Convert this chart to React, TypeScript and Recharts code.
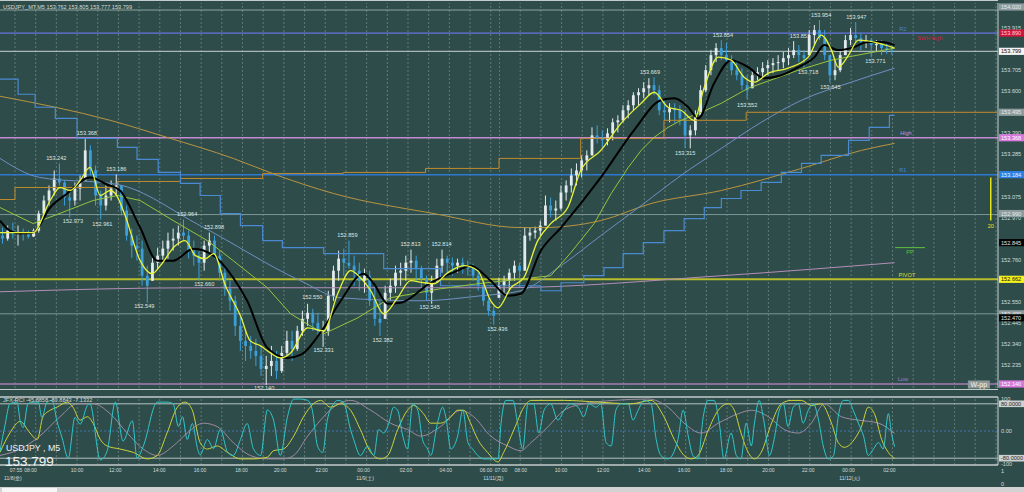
import React from 'react';
import { ComposedChart, Bar, Line, XAxis, YAxis, ReferenceLine, ReferenceDot } from 'recharts';

// ---------------- data ----------------
const SLOTS = 193; // 15-minute slots across the plot width
const PMIN = 152.12;
const PMAX = 154.04;

// visible price-scale labels (the others sit under the value boxes)
const priceTicks = [153.915, 153.705, 153.6, 153.39, 153.285, 153.075, 152.97, 152.76, 152.55, 152.445, 152.34, 152.235];

const firstOpen = 152.88;
const highs = [
  152.920, 152.930, 152.945, 152.930, 152.915, 152.905, 152.915, 153.005, 153.080, 153.130,
  153.205, 153.240, 153.155, 153.105, 153.145, 153.180, 153.365, 153.330, 153.230, 153.105,
  153.130, 153.155, 153.185, 153.130, 153.030, 152.915, 152.880, 152.855, 152.730, 152.780,
  152.820, 152.855, 152.895, 152.915, 152.930, 152.960, 152.905, 152.855, 152.805, 152.855,
  152.895, 152.880, 152.805, 152.730, 152.655, 152.580, 152.480, 152.405, 152.380, 152.365,
  152.330, 152.280, 152.330, 152.305, 152.330, 152.405, 152.405, 152.430, 152.505, 152.540,
  152.515, 152.495, 152.455, 152.605, 152.730, 152.805, 152.815, 152.855, 152.780, 152.745,
  152.715, 152.705, 152.630, 152.555, 152.630, 152.665, 152.730, 152.745, 152.780, 152.810,
  152.780, 152.730, 152.680, 152.680, 152.765, 152.810, 152.780, 152.770, 152.765, 152.770,
  152.755, 152.740, 152.705, 152.655, 152.565, 152.530, 152.670, 152.680, 152.715, 152.755,
  152.745, 152.920, 152.920, 152.925, 152.955, 153.080, 153.070, 153.055, 153.130, 153.155,
  153.215, 153.240, 153.280, 153.305, 153.420, 153.430, 153.405, 153.415, 153.465, 153.480,
  153.530, 153.555, 153.595, 153.615, 153.645, 153.665, 153.670, 153.630, 153.555, 153.540,
  153.540, 153.530, 153.505, 153.430, 153.505, 153.630, 153.730, 153.805, 153.840, 153.855,
  153.840, 153.780, 153.755, 153.715, 153.680, 153.705, 153.720, 153.745, 153.755, 153.765,
  153.780, 153.795, 153.815, 153.850, 153.830, 153.805, 153.905, 153.930, 153.955, 153.905,
  153.780, 153.755, 153.805, 153.880, 153.915, 153.945, 153.890, 153.880, 153.865, 153.855,
  153.855, 153.845, 153.830,
];
const lows = [
  152.840, 152.855, 152.865, 152.830, 152.855, 152.865, 152.875, 152.895, 152.980, 153.030,
  153.080, 153.130, 153.030, 152.970, 153.030, 153.055, 153.155, 153.180, 153.030, 152.960,
  153.005, 153.055, 153.080, 152.980, 152.855, 152.770, 152.755, 152.630, 152.545, 152.655,
  152.715, 152.745, 152.765, 152.805, 152.830, 152.855, 152.765, 152.730, 152.655, 152.705,
  152.795, 152.765, 152.655, 152.580, 152.505, 152.380, 152.305, 152.255, 152.265, 152.230,
  152.180, 152.135, 152.180, 152.165, 152.195, 152.280, 152.255, 152.305, 152.380, 152.430,
  152.405, 152.380, 152.325, 152.380, 152.555, 152.655, 152.680, 152.715, 152.630, 152.605,
  152.595, 152.530, 152.430, 152.380, 152.465, 152.555, 152.595, 152.630, 152.655, 152.695,
  152.655, 152.615, 152.555, 152.540, 152.645, 152.695, 152.680, 152.680, 152.695, 152.690,
  152.680, 152.655, 152.605, 152.530, 152.480, 152.435, 152.570, 152.595, 152.605, 152.655,
  152.620, 152.705, 152.855, 152.865, 152.880, 152.930, 152.970, 152.955, 153.005, 153.055,
  153.095, 153.130, 153.170, 153.205, 153.280, 153.340, 153.320, 153.330, 153.355, 153.395,
  153.445, 153.465, 153.505, 153.530, 153.565, 153.580, 153.580, 153.480, 153.455, 153.445,
  153.440, 153.430, 153.315, 153.315, 153.380, 153.480, 153.595, 153.680, 153.745, 153.755,
  153.730, 153.680, 153.655, 153.605, 153.560, 153.615, 153.655, 153.670, 153.680, 153.690,
  153.705, 153.715, 153.730, 153.765, 153.745, 153.715, 153.780, 153.830, 153.855, 153.755,
  153.645, 153.655, 153.695, 153.780, 153.830, 153.845, 153.805, 153.815, 153.770, 153.795,
  153.780, 153.785, 153.780,
];
const closes = [
  152.865, 152.905, 152.890, 152.895, 152.885, 152.875, 152.905, 152.990, 153.055, 153.105,
  153.165, 153.145, 153.070, 153.055, 153.115, 153.155, 153.305, 153.205, 153.080, 153.030,
  153.080, 153.115, 153.130, 153.005, 152.880, 152.830, 152.815, 152.680, 152.630, 152.745,
  152.780, 152.815, 152.855, 152.865, 152.895, 152.880, 152.805, 152.780, 152.745, 152.830,
  152.855, 152.780, 152.695, 152.615, 152.555, 152.430, 152.355, 152.330, 152.305, 152.280,
  152.215, 152.230, 152.255, 152.205, 152.295, 152.355, 152.315, 152.405, 152.465, 152.495,
  152.445, 152.405, 152.405, 152.580, 152.705, 152.765, 152.745, 152.730, 152.705, 152.655,
  152.680, 152.555, 152.465, 152.445, 152.595, 152.630, 152.695, 152.705, 152.745, 152.755,
  152.715, 152.665, 152.595, 152.655, 152.730, 152.765, 152.745, 152.730, 152.745, 152.725,
  152.715, 152.680, 152.630, 152.555, 152.505, 152.480, 152.630, 152.655, 152.695, 152.730,
  152.705, 152.880, 152.895, 152.905, 152.930, 153.030, 153.005, 153.015, 153.095, 153.130,
  153.180, 153.205, 153.255, 153.280, 153.380, 153.365, 153.355, 153.390, 153.445, 153.455,
  153.505, 153.530, 153.580, 153.595, 153.615, 153.630, 153.605, 153.505, 153.495, 153.515,
  153.505, 153.465, 153.380, 153.405, 153.480, 153.605, 153.705, 153.780, 153.815, 153.780,
  153.755, 153.705, 153.680, 153.630, 153.605, 153.680, 153.695, 153.715, 153.730, 153.740,
  153.745, 153.765, 153.780, 153.805, 153.780, 153.765, 153.880, 153.905, 153.865, 153.780,
  153.680, 153.705, 153.780, 153.855, 153.880, 153.865, 153.845, 153.855, 153.830, 153.835,
  153.815, 153.805, 153.799,
];

// indicator lines: [slot position, price]
const yellowMA = [[0, 152.895], [3.3, 152.895], [6.4, 152.895], [9.7, 153.055], [11.6, 153.12], [13.6, 153.105], [15.5, 153.155], [17.4, 153.22], [19.4, 153.08], [21.3, 153.105], [22.3, 153.09], [24.2, 152.98], [27.1, 152.755], [29.4, 152.69], [31, 152.73], [33.9, 152.83], [35.8, 152.855], [37.8, 152.78], [39.7, 152.765], [41.3, 152.79], [43.6, 152.63], [46.5, 152.48], [48.4, 152.355], [50.4, 152.33], [52.3, 152.295], [54.2, 152.27], [56.2, 152.295], [59.5, 152.42], [62.6, 152.405], [65.3, 152.59], [67.8, 152.705], [69.7, 152.67], [71.7, 152.605], [74.2, 152.49], [76.9, 152.57], [79.4, 152.655], [81.9, 152.645], [83.9, 152.64], [86.6, 152.695], [89.7, 152.73], [92.4, 152.705], [94.9, 152.555], [96.3, 152.52], [98.8, 152.62], [101.3, 152.67], [104, 152.855], [106.5, 152.94], [109.8, 153.02], [112.3, 153.205], [116.2, 153.305], [120.1, 153.44], [124, 153.54], [126.5, 153.595], [129.2, 153.52], [131.7, 153.505], [134.2, 153.455], [136.2, 153.62], [138.9, 153.77], [141.4, 153.755], [143.9, 153.67], [145.9, 153.645], [148.6, 153.69], [152.4, 153.715], [156.3, 153.77], [158.8, 153.88], [160.8, 153.805], [162.1, 153.72], [164.1, 153.78], [166, 153.855], [169.1, 153.845], [173, 153.815]];
const blackMA = [[0, 152.955], [1.9, 152.905], [3.9, 152.89], [6.4, 152.895], [9.7, 153.02], [13, 153.09], [17.4, 153.17], [20.7, 153.135], [23.2, 153.105], [27.1, 152.92], [30.4, 152.755], [33.5, 152.755], [37.4, 152.815], [41.3, 152.78], [45.1, 152.67], [47.8, 152.555], [51.7, 152.32], [55.6, 152.27], [58.1, 152.285], [62.6, 152.42], [65.9, 152.555], [70.3, 152.69], [72.3, 152.64], [75, 152.54], [77.5, 152.545], [83.3, 152.645], [88.5, 152.705], [91, 152.73], [94.9, 152.655], [98.2, 152.58], [100.7, 152.59], [104.6, 152.805], [108.5, 152.92], [116.2, 153.17], [122.6, 153.405], [127.8, 153.555], [130.4, 153.565], [133.1, 153.52], [135, 153.465], [138.1, 153.64], [141.4, 153.755], [144.7, 153.72], [147.8, 153.665], [151.1, 153.68], [154.4, 153.72], [157.5, 153.77], [159.4, 153.83], [162.1, 153.805], [164.6, 153.815], [167.9, 153.845], [170.5, 153.845], [173, 153.83]];
const greenMA = [[0, 153.02], [6.4, 152.94], [13, 153.005], [18, 153.055], [22.7, 153.08], [27.1, 153.055], [33.5, 152.955], [40.1, 152.855], [45.1, 152.755], [51.7, 152.62], [56.2, 152.49], [62.6, 152.39], [69.2, 152.47], [75.5, 152.57], [85.2, 152.615], [92.4, 152.64], [101.3, 152.665], [106.5, 152.68], [110.4, 152.795], [114.9, 152.94], [118.2, 153.09], [121.5, 153.22], [124, 153.305], [126.5, 153.37], [129.2, 153.42], [131.7, 153.455], [135.6, 153.495], [139.5, 153.54], [144.7, 153.615], [154.4, 153.705], [160.8, 153.755], [173, 153.815]];
const slateMA = [[0, 153.265], [7.7, 153.17], [22.7, 153.135], [38.7, 152.93], [58.1, 152.655], [65.9, 152.57], [81.4, 152.555], [93, 152.58], [100.7, 152.605], [108.5, 152.73], [116.2, 152.88], [124, 153.03], [131.7, 153.18], [139.5, 153.315], [147.2, 153.445], [155, 153.555], [164.6, 153.645], [173, 153.715]];
const orangeMA = [[0, 153.575], [21.3, 153.455], [32.3, 153.37], [45.1, 153.265], [53.7, 153.18], [64.5, 153.09], [83.9, 152.99], [100.7, 152.92], [104.6, 152.92], [116.2, 152.955], [125.9, 153.04], [139.5, 153.105], [155, 153.215], [166.6, 153.305], [173, 153.34]];
const purpleMA = [[0, 152.6], [38.7, 152.62], [96.9, 152.62], [139.5, 152.68], [173, 152.745]];
const blueStep = [[0, 153.66], [3.5, 153.585], [6.8, 153.52], [10.7, 153.465], [14.9, 153.365], [22.7, 153.32], [26.5, 153.26], [30.6, 153.195], [34.9, 153.14], [38.7, 153.08], [42.6, 152.99], [46.5, 152.93], [50.8, 152.855], [54.6, 152.82], [62.6, 152.79], [74.2, 152.715], [85.2, 152.63], [104.6, 152.605], [108.5, 152.645], [112.9, 152.68], [116.8, 152.72], [120.5, 152.79], [124.4, 152.845], [128.4, 152.905], [132.3, 152.965], [136.2, 153.02], [139.5, 153.065], [143.3, 153.105], [147.2, 153.145], [151.1, 153.195], [155, 153.24], [158.8, 153.28], [164.1, 153.355], [168.1, 153.42], [172, 153.48], [173, 153.48]];
const orangeStep = [[0, 153.06], [2.9, 153.12], [22.7, 153.15], [34.9, 153.165], [50.8, 153.19], [66.4, 153.195], [82.3, 153.215], [96.5, 153.265], [112.3, 153.365], [128.4, 153.455], [144.3, 153.495], [193, 153.495]];

// swing high / low annotations: [slot position, price, 1 = above / 0 = below]
const swings = [[10.9, 153.242, 1], [14.1, 152.973, 0], [16.8, 153.368, 1], [19.8, 152.961, 0], [22.5, 153.186, 1], [27.9, 152.549, 0], [36.2, 152.964, 1], [39.5, 152.66, 0], [41.4, 152.898, 1], [51.1, 152.14, 0], [60.4, 152.55, 1], [62.6, 152.331, 0], [67.2, 152.859, 1], [74.0, 152.382, 0], [79.4, 152.813, 1], [83.1, 152.545, 0], [85.4, 152.814, 1], [96.2, 152.436, 0], [125.7, 153.669, 1], [132.5, 153.315, 0], [139.8, 153.854, 1], [144.5, 153.552, 0], [154.7, 153.851, 1], [156.3, 153.718, 0], [158.8, 153.954, 1], [160.6, 153.645, 0], [165.6, 153.947, 1], [169.3, 153.771, 0]];

// horizontal levels
const levelNames = ['top', 'R2', 'price', 'High', 'R1', 'mid', 'PIVOT', 'base', 'Low'];
const levelValues = [154.005, 153.89, 153.799, 153.368, 153.184, 152.985, 152.662, 152.49, 152.14];
const tagTexts = ['R2', 'SWH high', 'High', 'R1', 'PP', 'PIVOT', 'Low'];
const tagAt = [174.6, 179.8, 175.2, 174.6, 176.0, 175.4, 174.6];
const tagPrice = [153.89, 153.89, 153.368, 153.184, 152.82, 152.662, 152.14];
const tagAbove = [1, 0, 1, 1, 0, 1, 1];
const ppSegment = [173.1, 178.9, 152.82];
const rangeBar = [191.6, 153.17, 152.955, 20];
const wppAt = [189.3, 152.14];

// right-axis value boxes
const boxNames = ['grey', 'red', 'white', 'grey', 'pink', 'blue', 'grey', 'black', 'yellow', 'grey', 'black', 'pink'];
const boxValues = [154.02, 153.89, 153.799, 153.495, 153.368, 153.184, 152.99, 152.845, 152.662, 152.49, 152.47, 152.14];

// oscillator (JFX-RCI) : [slot position, value]
const rciFast = [[0, -60], [1.0, 20], [1.9, 80], [3.3, 85], [3.9, 30], [4.5, 10], [5.4, 80], [6.4, 85], [7.4, 85], [8.1, 40], [9.1, 85], [10.1, 90], [11.0, 30], [12.0, -20], [13.2, -80], [14.5, 40], [15.5, 20], [16.9, 75], [17.4, 80], [19.4, -85], [20.7, -60], [22.3, 85], [23.8, -30], [25.6, 30], [26.5, -80], [27.7, -45], [30.4, 85], [32.3, 85], [33.5, 80], [34.5, 13], [35.3, 42], [36.2, -25], [37.2, 22], [38.2, -52], [38.7, -70], [40.1, -25], [41.3, -52], [42.6, 5], [44.0, -62], [45.1, -72], [46.5, -25], [47.8, 22], [49.0, -52], [50.4, -72], [51.7, 62], [52.9, 32], [54.2, -72], [55.6, 42], [56.8, 94], [58.1, 94], [59.5, 90], [60.4, 61], [61.4, -44], [62.4, -63], [63.3, 32], [64.5, 80], [65.3, 90], [66.4, 85], [67.8, 4], [68.4, -25], [69.7, -72], [71.1, -44], [72.3, -72], [73.2, 4], [74.2, -6], [75.2, 23], [76.1, 70], [76.9, 61], [77.9, -15], [78.8, -53], [79.8, 80], [80.8, 61], [81.7, -25], [82.7, -53], [83.3, -72], [84.6, 23], [85.6, 70], [86.2, 42], [87.2, -53], [88.5, -15], [89.5, 61], [90.5, -34], [91.4, -53], [92.4, -72], [93.6, -82], [94.9, -82], [96.3, -82], [96.9, 23], [97.8, 90], [99.2, 90], [100.1, 23], [101.1, -53], [102.1, 80], [103.2, 80], [104.2, -6], [105.2, 61], [106.5, 80], [107.9, 32], [109.1, 61], [110.4, 80], [111.8, 70], [112.9, 42], [113.9, 80], [115.3, 70], [116.2, 80], [117.2, -34], [118.2, -44], [119.1, 61], [120.1, 80], [121.5, 80], [122.4, 32], [123.4, 61], [124.6, 90], [125.9, 80], [126.9, -25], [127.8, -72], [129.2, -82], [131.1, -25], [132.1, 61], [133.1, -15], [134.0, -72], [135.0, -82], [136.0, 42], [136.9, 90], [138.1, 90], [139.1, 23], [140.0, -82], [141.4, -6], [142.4, -72], [143.3, -82], [144.3, 23], [145.3, -44], [145.9, 23], [146.8, 90], [147.8, 23], [148.8, -72], [149.7, -25], [150.7, 61], [151.5, 80], [152.4, 13], [153.4, 70], [154.4, 80], [155.3, 23], [156.3, 61], [157.3, 80], [158.3, 32], [159.2, -44], [160.2, -82], [161.2, -72], [162.1, 42], [163.1, 90], [164.1, 90], [165.0, 61], [166.0, 23], [167.0, -15], [167.9, -72], [168.9, -53], [169.9, -34], [170.8, -53], [171.8, 51], [172.4, -6], [173.0, -46]];
const rciMid = [[0, -63], [1.9, -6], [3.9, 28], [5.8, -6], [7.2, -25], [8.3, 42], [9.7, 61], [11.0, 70], [13.0, 85], [14.1, 70], [15.5, 32], [16.9, 42], [18.0, 23], [19.4, -25], [20.7, -44], [23.2, -53], [25.8, -63], [28.5, -82], [30.4, -72], [32.3, -6], [34.3, 70], [35.8, 85], [37.2, 61], [38.7, -34], [40.1, -53], [42.0, -44], [44.0, -63], [46.5, -82], [49.0, -82], [51.7, -77], [52.9, -58], [54.8, -53], [56.8, -15], [58.7, 42], [60.6, 80], [62.0, 90], [63.9, 70], [65.9, 80], [67.8, 61], [69.7, 4], [71.7, -63], [73.6, -82], [75.0, -72], [76.9, 4], [78.8, 61], [80.0, 75], [81.9, 51], [83.3, 23], [85.2, 23], [87.2, 42], [88.5, 61], [89.7, 61], [91.0, 23], [92.4, -25], [94.3, -63], [96.3, -91], [97.4, -63], [99.4, 4], [101.3, 70], [102.7, 90], [109.1, 90], [115.6, 85], [122.0, 80], [125.9, 90], [128.4, 42], [130.4, -25], [132.3, -72], [133.7, -82], [135.0, -72], [137.0, 4], [138.9, 61], [140.8, 80], [142.0, 61], [143.3, -6], [144.7, -63], [145.9, -82], [147.2, -63], [149.2, 23], [151.1, 80], [153.0, 90], [155.0, 90], [156.9, 75], [158.8, 80], [160.8, 23], [162.1, -34], [163.3, -48], [165.2, -25], [166.6, 13], [167.9, 70], [169.1, 51], [170.5, -25], [171.8, -63], [173.0, -81]];
const rciSlow = [[0, -72], [3.9, -53], [7.7, -15], [11.6, 42], [14.9, 80], [18.0, 80], [21.3, 51], [24.6, -6], [27.7, -53], [30.4, -72], [33.5, -44], [36.2, -6], [39.3, 23], [42.0, 13], [45.1, -34], [48.4, -72], [51.7, -82], [54.8, -82], [56.8, -72], [59.5, -15], [62.0, 32], [64.5, 70], [67.8, 90], [71.7, 61], [75.5, 23], [78.8, 4], [81.4, -15], [85.2, 13], [89.1, 61], [91.6, 42], [94.9, -15], [98.2, -44], [100.7, -58], [102.7, -34], [106.0, 13], [109.1, 61], [112.9, 80], [118.7, 90], [125.3, 94], [129.2, 70], [132.3, 23], [135.6, -6], [138.9, 23], [142.8, 51], [145.3, 61], [148.6, 42], [151.7, 4], [154.4, -6], [156.9, 23], [159.4, 80], [162.7, 42], [166.0, 32], [169.9, 23], [173.0, -7]];
const rciTicks = [100, 0, -100];
const rciBoxes = [80, -80];

// time axis labels: [slot position, label]
const timeAt = [3.1, 5.9, 14.9, 22.3, 30.8, 38.7, 46.7, 54.2, 62.2, 70.3, 78.5, 86.2, 94.0, 96.9, 100.7, 108.5, 116.6, 124.6, 132.3, 140.4, 148.6, 156.3, 164.1, 172.0];
const timeText = ['07:55', '08:00', '10:00', '12:00', '14:00', '16:00', '18:00', '20:00', '22:00', '00:00', '02:00', '04:00', '06:00', '07:00', '08:00', '10:00', '12:00', '14:00', '16:00', '18:00', '20:00', '22:00', '00:00', '02:00'];
const dateAt = [2.5, 70.6, 95.4, 164.3];
const dateText = ['11/8(金)', '11/9(土)', '11/11(月)', '11/12(火)'];

// ---------------- styles ----------------
const W = 1024;
const BG = '#2e4d4a';
const FONT = '"Liberation Sans", "Noto Sans CJK JP", Arial, sans-serif';
const TXT = '#d3dcdc';
const UP = '#e2eaee';
const DOWN = '#3c9fd9';
const GRID = 'rgba(205,215,215,0.32)';
const SMALL = 5.6;
const AXIS_FONT = 5.0;

const LEVEL_STYLE: Record<string, { stroke: string; w: number }> = {
  top: { stroke: '#8fa3a3', w: 1 },
  R2: { stroke: '#5668b6', w: 1.6 },
  price: { stroke: '#c6d0d0', w: 1 },
  High: { stroke: '#c48ad2', w: 1.5 },
  R1: { stroke: '#2f78d0', w: 1.5 },
  mid: { stroke: '#7b9494', w: 1 },
  PIVOT: { stroke: '#b8bc2c', w: 2 },
  base: { stroke: '#7b9494', w: 1 },
  Low: { stroke: '#a67db2', w: 1.5 },
};
const TAG_COLOR = ['#4a82d6', '#d0203c', '#d58ad8', '#3f86dc', '#5fc040', '#d9dc3a', '#a57cc0'];
const BOX_STYLE: Record<string, { bg: string; fg: string }> = {
  grey: { bg: '#8e9c9f', fg: '#e6eaea' },
  red: { bg: '#d2143a', fg: '#ffd0d8' },
  white: { bg: '#f4f4f4', fg: '#111111' },
  pink: { bg: '#d679da', fg: '#ffffff' },
  blue: { bg: '#2a80e6', fg: '#e8f2ff' },
  black: { bg: '#050505', fg: '#e0e0e0' },
  yellow: { bg: '#f2f21c', fg: '#111111' },
};

// ---------------- helpers ----------------
const pts = (arr: number[][]) => arr.map(([u, v]) => ({ u, v }));

const candleTable = Array.from({ length: SLOTS }, (_, i) => {
  if (i >= closes.length) return { i, range: null };
  const o = i === 0 ? firstOpen : closes[i - 1];
  return { i, range: [lows[i], highs[i]], o, c: closes[i], h: highs[i], l: lows[i] };
});

const gridU: number[] = [];
for (let u = 2.9; u < 95; u += 4) gridU.push(u);
for (let u = 96.6; u < SLOTS; u += 4) gridU.push(u);

const Candle = (props: any) => {
  const { x, y, width, height, payload } = props;
  if (!payload || !payload.range) return <g />;
  const top = Math.min(y, y + height);
  const span = Math.abs(height);
  const { o, c, h, l } = payload;
  const k = span / Math.max(h - l, 1e-9);
  const oo = Math.min(Math.max(o, l), h);
  const py = (p: number) => top + (h - p) * k;
  const col = c >= oo ? UP : DOWN;
  const cx = x + width / 2;
  const b1 = py(Math.max(oo, c));
  const b2 = py(Math.min(oo, c));
  return (
    <g>
      <line x1={cx} x2={cx} y1={top} y2={top + span} stroke={col} strokeWidth={1} />
      <rect x={cx - 1.4} y={b1} width={2.8} height={Math.max(b2 - b1, 1)} fill={col} />
    </g>
  );
};

const PriceTick = (p: any) => (
  <text x={p.x + 3} y={p.y + 2} fill={TXT} fontSize={SMALL} fontFamily={FONT}>
    {Number(p.payload.value).toFixed(3)}
  </text>
);

const RciTick = (p: any) => {
  const v = p.payload.value;
  const dy = v > 0 ? 4 : v < 0 ? 1 : 2;
  return (
    <text x={p.x + 3} y={p.y + dy} fill={TXT} fontSize={SMALL} fontFamily={FONT}>
      {v === 0 ? '0.00' : String(v)}
    </text>
  );
};

const allAxisAt = [...timeAt, ...dateAt];
const TimeTick = (p: any) => {
  const idx = p.index;
  const isDate = idx >= timeAt.length;
  const text = isDate ? dateText[idx - timeAt.length] : timeText[idx];
  return (
    <text x={p.x} y={p.y + (isDate ? 15 : 7)} textAnchor="middle" fill={TXT} fontSize={AXIS_FONT} fontFamily={FONT}>
      {text}
    </text>
  );
};

const boxLabel = (text: string, bg: string, fg: string, w = 25, h = 7.2) => (props: any) => {
  const vb = props.viewBox || { x: 0, y: 0, width: 0, height: 0 };
  const cx = vb.x + vb.width / 2;
  const cy = vb.y + vb.height / 2;
  return (
    <g>
      <rect x={cx + 1} y={cy - h / 2} width={w} height={h} fill={bg} />
      <text x={cx + 3} y={cy + 2} fill={fg} fontSize={SMALL} fontFamily={FONT}>{text}</text>
    </g>
  );
};

const centeredBox = (text: string) => (props: any) => {
  const vb = props.viewBox || { x: 0, y: 0, width: 0, height: 0 };
  const cx = vb.x + vb.width / 2;
  const cy = vb.y + vb.height / 2;
  return (
    <g>
      <rect x={cx - 11} y={cy - 3.5} width={22} height={8} fill="#8e9896" />
      <text x={cx} y={cy + 3} textAnchor="middle" fill="#f2f2f2" fontSize={7} fontFamily={FONT}>{text}</text>
    </g>
  );
};

// ---------------- component ----------------
export default function App() {
  const mainMargin = { top: 3, right: 26, bottom: 5, left: 0 };
  return (
    <div style={{ position: 'relative', width: W, height: 492, background: BG, overflow: 'hidden', fontFamily: FONT }}>
      <style>{`body{margin:0;background:${BG};}`}</style>

      {/* base layer: grid, levels, price axis */}
      <div style={{ position: 'absolute', left: 0, top: 0 }}>
        <ComposedChart width={W} height={393} margin={{ top: 3, right: 0, bottom: 5, left: 0 }}>
          <XAxis type="number" dataKey="u" domain={[0, SLOTS]} hide allowDataOverflow />
          <YAxis
            orientation="right"
            type="number"
            width={26}
            domain={[PMIN, PMAX]}
            allowDataOverflow
            ticks={priceTicks}
            interval={0}
            tick={<PriceTick />}
            tickLine={false}
            tickSize={0}
            tickMargin={0}
            axisLine={{ stroke: '#c9d1d1', strokeWidth: 1 }}
          />
          {gridU.map((u) => (
            <ReferenceLine key={'g' + u} x={u} stroke={GRID} strokeDasharray="2 2" />
          ))}
          {levelNames.map((n, k) => (
            <ReferenceLine key={n} y={levelValues[k]} stroke={LEVEL_STYLE[n].stroke} strokeWidth={LEVEL_STYLE[n].w} ifOverflow="visible" />
          ))}
        </ComposedChart>
      </div>

      {/* candles */}
      <div style={{ position: 'absolute', left: 0, top: 0 }}>
        <ComposedChart width={W} height={393} data={candleTable} margin={mainMargin}>
          <XAxis dataKey="i" hide />
          <YAxis type="number" domain={[PMIN, PMAX]} hide allowDataOverflow />
          <Bar dataKey="range" barSize={3} shape={<Candle />} isAnimationActive={false} />
        </ComposedChart>
      </div>

      {/* indicator lines, labels, axis boxes */}
      <div style={{ position: 'absolute', left: 0, top: 0 }}>
        <ComposedChart width={W} height={393} margin={mainMargin}>
          <XAxis type="number" dataKey="u" domain={[0, SLOTS]} hide allowDataOverflow />
          <YAxis type="number" domain={[PMIN, PMAX]} hide allowDataOverflow />
          <Line data={pts(purpleMA)} dataKey="v" type="monotone" stroke="#b58db6" strokeWidth={1} dot={false} isAnimationActive={false} />
          <Line data={pts(orangeMA)} dataKey="v" type="monotone" stroke="#b99440" strokeWidth={1} dot={false} isAnimationActive={false} />
          <Line data={pts(slateMA)} dataKey="v" type="monotone" stroke="#6f8fc2" strokeWidth={1} dot={false} isAnimationActive={false} />
          <Line data={pts(orangeStep)} dataKey="v" type="stepAfter" stroke="#c08a2e" strokeWidth={1} dot={false} isAnimationActive={false} />
          <Line data={pts(blueStep)} dataKey="v" type="stepAfter" stroke="#4a8ad2" strokeWidth={1.2} dot={false} isAnimationActive={false} />
          <Line data={pts(greenMA)} dataKey="v" type="linear" stroke="#98c43c" strokeWidth={1} dot={false} isAnimationActive={false} />
          <Line data={pts(blackMA)} dataKey="v" type="monotone" stroke="#000000" strokeWidth={2} dot={false} isAnimationActive={false} />
          <Line data={pts(yellowMA)} dataKey="v" type="monotone" stroke="#e8f23a" strokeWidth={1.3} dot={false} isAnimationActive={false} />

          <ReferenceLine
            segment={[{ x: ppSegment[0], y: ppSegment[2] }, { x: ppSegment[1], y: ppSegment[2] }]}
            stroke="#5fc040"
            strokeWidth={1}
          />
          <ReferenceLine
            segment={[{ x: rangeBar[0], y: rangeBar[1] }, { x: rangeBar[0], y: rangeBar[2] }]}
            stroke="#e6e61e"
            strokeWidth={1.5}
          />
          <ReferenceDot x={rangeBar[0]} y={rangeBar[2]} r={1} fill="none" stroke="none"
            label={{ value: String(rangeBar[3]), position: 'bottom', offset: 2, fill: '#e6e61e', fontSize: SMALL, fontFamily: FONT }} />

          {swings.map(([u, p, above], k) => (
            <ReferenceDot key={'s' + k} x={u} y={p} r={1} fill="none" stroke="none" ifOverflow="visible"
              label={{ value: p.toFixed(3), position: above ? 'top' : 'bottom', offset: above ? 2 : 1.5, fill: '#dde5e5', fontSize: SMALL, fontFamily: FONT }} />
          ))}

          {tagTexts.map((t, k) => (
            <ReferenceDot key={'t' + k} x={tagAt[k]} y={tagPrice[k]} r={1} fill="none" stroke="none" ifOverflow="visible"
              label={{ value: t, position: tagAbove[k] ? 'top' : 'bottom', offset: 1.5, fill: TAG_COLOR[k], fontSize: SMALL, fontFamily: FONT }} />
          ))}

          <ReferenceDot x={wppAt[0]} y={wppAt[1]} r={1} fill="none" stroke="none" ifOverflow="visible" label={centeredBox('W-pp')} />

          {boxNames.map((n, k) => (
            <ReferenceDot key={'b' + k} x={SLOTS} y={boxValues[k]} r={0.5} fill="none" stroke="none" ifOverflow="visible"
              label={boxLabel(boxValues[k].toFixed(3), BOX_STYLE[n].bg, BOX_STYLE[n].fg)} />
          ))}
        </ComposedChart>
      </div>

      {/* oscillator */}
      <div style={{ position: 'absolute', left: 0, top: 390 }}>
        <ComposedChart width={W} height={97} margin={{ top: 7, right: 0, bottom: 0, left: 0 }}>
          <XAxis
            type="number"
            dataKey="u"
            domain={[0, SLOTS]}
            allowDataOverflow
            height={22}
            ticks={allAxisAt}
            interval={0}
            tick={<TimeTick />}
            tickLine={false}
            tickSize={0}
            tickMargin={0}
            axisLine={{ stroke: '#c3cccc', strokeWidth: 1.5 }}
          />
          <YAxis
            orientation="right"
            type="number"
            width={26}
            domain={[-100, 100]}
            allowDataOverflow
            ticks={rciTicks}
            interval={0}
            tick={<RciTick />}
            tickLine={false}
            tickSize={0}
            tickMargin={0}
            axisLine={{ stroke: '#c9d1d1', strokeWidth: 1 }}
          />
          {gridU.map((u) => (
            <ReferenceLine key={'og' + u} x={u} stroke={GRID} strokeDasharray="2 2" />
          ))}
          <ReferenceLine y={100} stroke="#c3cccc" strokeWidth={1.5} ifOverflow="visible" />
          {rciBoxes.map((v) => (
            <ReferenceLine key={'l' + v} y={v} stroke="#b4bfbf" strokeWidth={1} />
          ))}
          <ReferenceLine y={0} stroke="#3f72ad" strokeDasharray="2 2" />
          <Line data={pts(rciSlow)} dataKey="v" type="monotone" stroke="#9d8a9f" strokeWidth={1} dot={false} isAnimationActive={false} />
          <Line data={pts(rciMid)} dataKey="v" type="monotone" stroke="#cdd23c" strokeWidth={1} dot={false} isAnimationActive={false} />
          <Line data={pts(rciFast)} dataKey="v" type="monotone" stroke="#30c6ca" strokeWidth={1} dot={false} isAnimationActive={false} />
          {rciBoxes.map((v) => (
            <ReferenceDot key={'rb' + v} x={SLOTS} y={v} r={0.5} fill="none" stroke="none" ifOverflow="visible"
              label={boxLabel(v.toFixed(4), '#ccd1d1', '#2a2a2a', 25, 6.6)} />
          ))}
        </ComposedChart>
      </div>

      {/* text overlay */}
      <svg width={W} height={492} style={{ position: 'absolute', left: 0, top: 0, pointerEvents: 'none' }}>
        <line x1={0} x2={998} y1={0.5} y2={0.5} stroke="#c3cccc" strokeWidth={1} />
        <line x1={0} x2={998} y1={389.5} y2={389.5} stroke="#c3cccc" strokeWidth={1.2} />
        <text x={3} y={8.5} fill={TXT} fontSize={SMALL} fontFamily={FONT}>USDJPY_MT,M5 153.762 153.805 153.777 153.799</text>
        <text x={3} y={402} fill={TXT} fontSize={SMALL} fontFamily={FONT}>JFX-RCI -45.8858 -80.8843 -7.1332</text>
        <text x={6} y={451} fill="#f2f2f2" fontSize={8.8} fontFamily={FONT}>USDJPY , M5</text>
        <text x={5} y={466} fill="#f2f2f2" fontSize={13.5} fontFamily={FONT}>153.799</text>
        <text x={1001} y={473} fill={TXT} fontSize={SMALL} fontFamily={FONT}>1</text>
        <text x={1001} y={486} fill={TXT} fontSize={SMALL} fontFamily={FONT}>0</text>
        <rect x={0} y={487} width={W} height={5} fill="#d2d2d2" />
        <rect x={2} y={488} width={55} height={4} fill="#f6f6f6" />
      </svg>
    </div>
  );
}
